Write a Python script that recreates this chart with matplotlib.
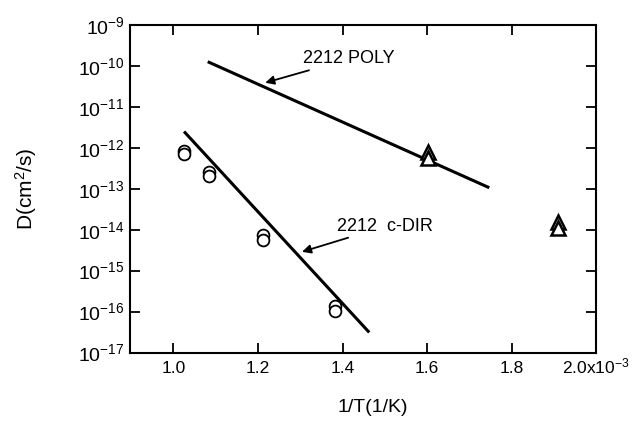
import matplotlib
matplotlib.use("Agg")
import matplotlib.pyplot as plt
import matplotlib.transforms as mtransforms
import numpy as np

plt.rcParams['font.family'] = ['Liberation Sans', 'DejaVu Sans']
plt.rcParams['mathtext.fontset'] = 'custom'
plt.rcParams['mathtext.rm'] = 'Liberation Sans'
plt.rcParams['mathtext.it'] = 'Liberation Sans'

# c-direction data (circles), pairs of overlapping points
cdir_x = [1.025, 1.025, 1.084, 1.084, 1.212, 1.212, 1.382, 1.382]
cdir_D = [8.6e-13, 7.1e-13, 2.64e-13, 2.07e-13, 7.6e-15, 5.7e-15, 1.35e-16, 1.06e-16]

# polycrystal data (triangles)
poly_x = [1.602, 1.602, 1.910, 1.910]
poly_D = [7.9e-13, 5.8e-13, 1.58e-14, 1.13e-14]

# fitted lines (endpoints)
poly_line_x = [1.081, 1.747]
poly_line_D = [1.27e-10, 1.06e-13]
cdir_line_x = [1.025, 1.463]
cdir_line_D = [2.5e-12, 3.1e-17]

xticks = [1.0, 1.2, 1.4, 1.6, 1.8, 2.0]
xticklabels = ['1.0', '1.2', '1.4', '1.6', '1.8', r'2.0x10$^{\mathregular{-3}}$']
yexp = list(range(-17, -8))

fig = plt.figure(figsize=(6.37, 4.24), dpi=100)
ax = fig.add_axes([0.204, 0.1686, 0.732, 0.7724])
ax.set_yscale('log')
ax.set_xlim(0.897, 2.0)
ax.set_ylim(1e-17, 1e-9)

ax.plot(poly_line_x, poly_line_D, color='black', lw=2.2, solid_capstyle='butt')
ax.plot(cdir_line_x, cdir_line_D, color='black', lw=2.2, solid_capstyle='butt')
ax.plot(cdir_x, cdir_D, 'o', ms=8.5, mfc='white', mec='black', mew=1.3, ls='none')
ax.plot(poly_x, poly_D, '^', ms=9.5, mfc='white', mec='black', mew=1.8, ls='none')

ax.annotate('2212 POLY', xy=(1.217, 10**-10.41), xytext=(1.306, 10**-9.83),
            fontsize=13, va='center', ha='left',
            arrowprops=dict(arrowstyle='-|>', color='black', lw=1.3,
                            mutation_scale=13, shrinkA=0, shrinkB=0))
ax.annotate('2212  c-DIR', xy=(1.304, 10**-14.54), xytext=(1.387, 10**-13.92),
            fontsize=13, va='center', ha='left',
            arrowprops=dict(arrowstyle='-|>', color='black', lw=1.3,
                            mutation_scale=13, shrinkA=0, shrinkB=0))

ax.set_xticks(xticks)
ax.set_xticklabels([])
trans = mtransforms.blended_transform_factory(ax.transData, ax.transAxes)
for xv, lab in zip(xticks, xticklabels):
    ax.text(xv, -0.064, lab, transform=trans, ha='center', va='baseline',
            fontsize=12.5)
ax.set_yticks([10.0**e for e in yexp])
ax.set_yticklabels([r'$\mathregular{10^{%d}}$' % e for e in yexp])
ax.yaxis.set_minor_locator(matplotlib.ticker.NullLocator())
ax.xaxis.set_minor_locator(matplotlib.ticker.NullLocator())
ax.tick_params(direction='in', length=7, width=1.3, top=True, right=True)
ax.tick_params(axis='y', labelsize=14, pad=4)
for s in ax.spines.values():
    s.set_linewidth(1.5)

ax.set_xlabel('1/T(1/K)', fontsize=14)
ax.xaxis.set_label_coords(0.521, -0.142)
ax.set_ylabel(r'D(cm$^{\mathregular{2}}$/s)', fontsize=15)
ax.yaxis.set_label_coords(-0.195, 0.5)

fig.savefig('out.png', dpi=100)
